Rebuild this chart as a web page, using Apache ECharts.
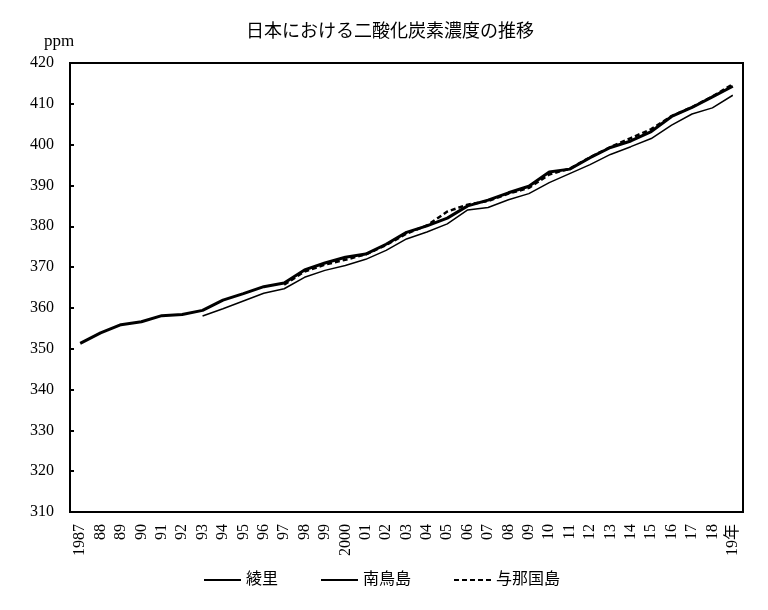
<!DOCTYPE html>
<html>
<head>
<meta charset="utf-8">
<script src="https://cdn.jsdelivr.net/npm/echarts@6/dist/echarts.min.js"></script>
<style>
  html, body { margin: 0; padding: 0; background: #fff; }
  #co2_chart { width: 768px; height: 610px; }
</style>
</head>
<body>
<div id="co2_chart"></div>
<script>
const years = ["1987", "88", "89", "90", "91", "92", "93", "94", "95", "96", "97", "98", "99", "2000",
    "01", "02", "03", "04", "05", "06", "07", "08", "09", "10", "11", "12", "13", "14", "15", "16", "17", "18", "19年"];

// 綾里
const ryori = [351.3, 353.9, 355.9, 356.6, 358.1, 358.4, 359.4, 361.9, 363.5, 365.2, 366.1, 369.3, 371.0,
    372.4, 373.2, 375.6, 378.5, 380.1, 382.0, 385.0, 386.4, 388.2, 389.8, 393.3, 394.0, 396.8, 399.3,
    400.9, 403.2, 406.9, 409.1, 411.7, 414.3];

// 南鳥島 (1993年から)
const minamitorishima = [null, null, null, null, null, null, 358.0, 359.8, 361.7, 363.6, 364.7, 367.5, 369.2,
    370.4, 371.9, 374.1, 376.9, 378.6, 380.6, 384.0, 384.6, 386.5, 388.0, 390.7, 392.9, 395.1, 397.6,
    399.5, 401.5, 404.8, 407.5, 409.0, 412.1];

// 与那国島 (1997年から)
const yonaguni = [null, null, null, null, null, null, null, null, null, null, 365.7, 368.9, 370.6,
    371.8, 373.1, 375.4, 378.2, 380.2, 383.6, 385.3, 386.2, 388.0, 389.4, 392.7, 394.1, 396.9, 399.4,
    401.6, 403.8, 407.0, 409.2, 411.8, 414.8];

const fontFamily = "Liberation Serif, Noto Sans CJK JP";

const chartDom = document.getElementById("co2_chart");
const co2Chart = echarts.init(chartDom);

const lineSeries = (name, data, width, type) => ({
    name,
    type: "line",
    data,
    symbol: "none",
    connectNulls: false,
    lineStyle: { color: "#000", width, type },
    itemStyle: { color: "#000" },
});

const option = {
    backgroundColor: "#fff",
    animation: false,
    textStyle: { fontFamily, color: "#000" },
    title: [
        {
            text: "日本における二酸化炭素濃度の推移",
            left: 385,
            textAlign: "center",
            top: 18,
            textStyle: { fontSize: 18, fontWeight: "normal", fontFamily, color: "#000" }
        },
        {
            text: "ppm",
            left: 39,
            top: 28,
            textStyle: { fontSize: 17, fontWeight: "normal", fontFamily, color: "#000" }
        }
    ],
    legend: {
        bottom: 17,
        left: 198,
        itemWidth: 37,
        itemHeight: 10,
        itemGap: 42,
        itemStyle: { opacity: 0 },
        textStyle: { fontSize: 16, fontFamily, color: "#000" },
        data: ["綾里", "南鳥島", "与那国島"]
    },
    grid: {
        left: 70,
        right: 25,
        top: 63,
        bottom: 98,
        show: true,
        borderColor: "#000",
        borderWidth: 2,
        containLabel: false
    },
    xAxis: {
        type: "category",
        data: years,
        boundaryGap: true,
        axisLine: { lineStyle: { color: "#000", width: 2 } },
        axisTick: { show: false },
        axisLabel: {
            rotate: 90,
            interval: 0,
            margin: 12,
            fontSize: 16,
            color: "#000",
            fontFamily
        },
        splitLine: { show: false }
    },
    yAxis: {
        type: "value",
        min: 310,
        max: 420,
        interval: 10,
        axisLine: { show: true, lineStyle: { color: "#000", width: 2 } },
        axisTick: { show: true, inside: true, length: 4, lineStyle: { color: "#000", width: 2 } },
        axisLabel: { fontSize: 16, color: "#000", margin: 16, fontFamily },
        splitLine: { show: false }
    },
    series: [
        lineSeries("綾里", ryori, 3, "solid"),
        lineSeries("南鳥島", minamitorishima, 1.5, "solid"),
        lineSeries("与那国島", yonaguni, 2.5, [5, 3])
    ]
};

co2Chart.setOption(option);
</script>
</body>
</html>
